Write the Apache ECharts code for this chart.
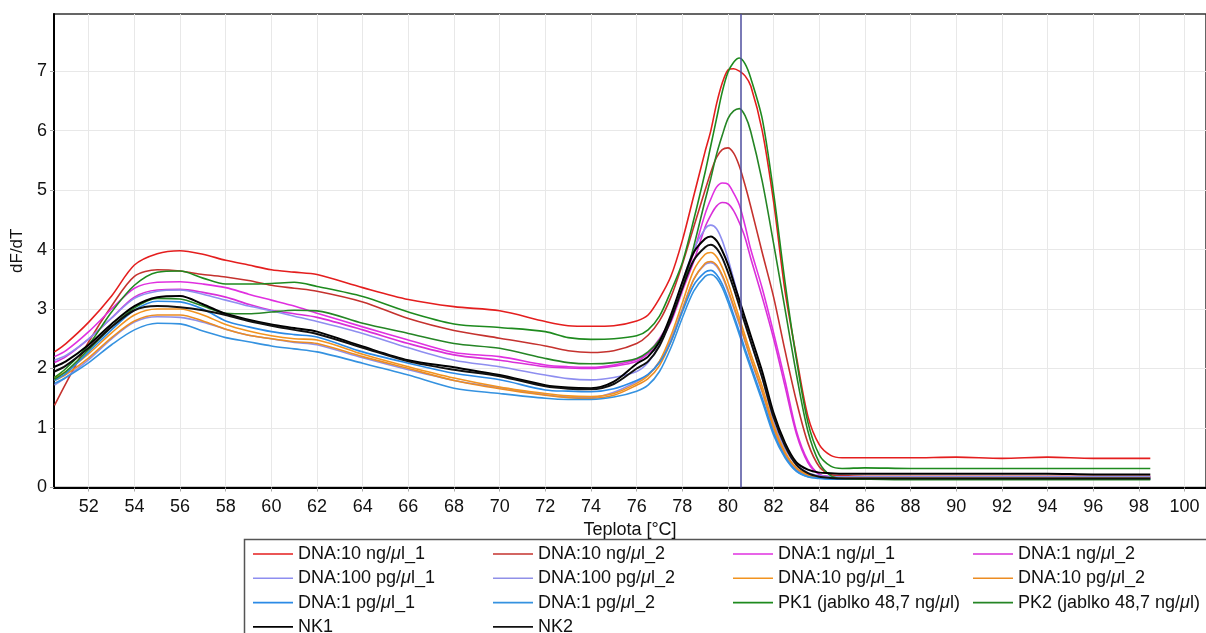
<!DOCTYPE html>
<html><head><meta charset="utf-8">
<script src="https://cdn.jsdelivr.net/npm/echarts@6/dist/echarts.min.js"></script>
<style>html,body{margin:0;padding:0;background:#fff}#c{width:1206px;height:633px}</style>
</head><body><div id="c"></div>
<script>
const temps = [50.5, 51, 52, 53, 54, 55, 56, 57, 58, 59, 60, 61, 62, 64, 66, 68, 70, 72, 73, 74, 75,
  76, 76.5, 77, 77.5, 78, 78.5, 79, 79.25, 79.5, 79.75, 80, 80.25, 80.5, 80.75, 81, 81.5, 82, 82.5, 83, 83.5,
  84, 84.5, 85, 86, 88, 90, 92, 94, 96, 98.5];

const dna10ng_1 = [2.28, 2.42, 2.78, 3.22, 3.74, 3.93, 3.98, 3.92, 3.82, 3.74, 3.66, 3.62, 3.58, 3.36, 3.16, 3.04, 2.97, 2.79, 2.72, 2.71, 2.72,
  2.8, 2.9, 3.18, 3.55, 4.15, 4.9, 5.65, 6.0, 6.45, 6.8, 7.02, 7.04, 7.0, 6.92, 6.75, 6.0, 4.8, 3.3, 2.2, 1.2, 0.72, 0.54, 0.5, 0.5, 0.5, 0.51, 0.49, 0.51, 0.49, 0.49];
const dna10ng_2 = [1.38, 1.75, 2.45, 3.05, 3.55, 3.66, 3.64, 3.58, 3.54, 3.48, 3.40, 3.35, 3.30, 3.12, 2.84, 2.64, 2.51, 2.38, 2.30, 2.27, 2.30,
  2.42, 2.56, 2.8, 3.2, 3.75, 4.38, 5.0, 5.3, 5.55, 5.68, 5.71, 5.62, 5.4, 5.08, 4.72, 3.95, 3.2, 2.3, 1.45, 0.75, 0.35, 0.22, 0.2, 0.19, 0.19, 0.19, 0.19, 0.19, 0.19, 0.19];
const dna1ng_1 = [2.2, 2.3, 2.62, 3.0, 3.35, 3.45, 3.46, 3.42, 3.36, 3.25, 3.15, 3.05, 2.93, 2.7, 2.48, 2.27, 2.2, 2.06, 2.03, 2.02, 2.06,
  2.15, 2.27, 2.5, 2.85, 3.35, 3.95, 4.6, 4.85, 5.05, 5.12, 5.1, 4.95, 4.75, 4.4, 4.0, 3.35, 2.6, 1.8, 0.95, 0.45, 0.22, 0.18, 0.17, 0.17, 0.17, 0.17, 0.17, 0.17, 0.17, 0.17];
const dna1ng_2 = [2.1, 2.2, 2.5, 2.85, 3.2, 3.32, 3.33, 3.28, 3.2, 3.08, 2.98, 2.92, 2.86, 2.65, 2.42, 2.23, 2.14, 2.03, 2.01, 2.0, 2.04,
  2.12, 2.25, 2.45, 2.78, 3.3, 3.8, 4.38, 4.58, 4.73, 4.79, 4.77, 4.65, 4.45, 4.2, 3.85, 3.2, 2.5, 1.7, 0.9, 0.42, 0.22, 0.18, 0.17, 0.17, 0.17, 0.17, 0.17, 0.17, 0.17, 0.17];
const dna100pg_1 = [2.14, 2.22, 2.5, 2.85, 3.18, 3.3, 3.32, 3.25, 3.15, 3.05, 2.97, 2.88, 2.79, 2.59, 2.35, 2.14, 2.03, 1.89, 1.83, 1.81, 1.85,
  1.95, 2.1, 2.4, 2.85, 3.45, 4.0, 4.35, 4.41, 4.35, 4.15, 3.85, 3.5, 3.15, 2.8, 2.45, 1.85, 1.1, 0.65, 0.38, 0.25, 0.2, 0.18, 0.18, 0.18, 0.18, 0.18, 0.18, 0.18, 0.18, 0.18];
const dna100pg_2 = [1.72, 1.85, 2.15, 2.5, 2.78, 2.87, 2.86, 2.78, 2.66, 2.56, 2.5, 2.44, 2.4, 2.18, 1.98, 1.8, 1.68, 1.56, 1.52, 1.51, 1.6,
  1.78, 1.9, 2.12, 2.5, 3.0, 3.5, 3.75, 3.78, 3.72, 3.55, 3.3, 3.02, 2.74, 2.45, 2.15, 1.6, 0.98, 0.55, 0.3, 0.2, 0.17, 0.16, 0.16, 0.17, 0.17, 0.17, 0.17, 0.17, 0.17, 0.17];
const dna10pg_1 = [1.85, 1.95, 2.25, 2.6, 2.9, 3.0, 3.0, 2.9, 2.74, 2.63, 2.55, 2.5, 2.48, 2.24, 2.03, 1.84, 1.69, 1.58, 1.54, 1.53, 1.58,
  1.75, 1.88, 2.12, 2.55, 3.1, 3.65, 3.92, 3.95, 3.88, 3.7, 3.45, 3.15, 2.85, 2.55, 2.25, 1.7, 1.05, 0.6, 0.33, 0.22, 0.18, 0.16, 0.16, 0.16, 0.16, 0.16, 0.16, 0.16, 0.16, 0.16];
const dna10pg_2 = [1.8, 1.9, 2.18, 2.52, 2.8, 2.9, 2.9, 2.8, 2.66, 2.56, 2.5, 2.45, 2.42, 2.2, 2.0, 1.8, 1.66, 1.55, 1.51, 1.5, 1.55,
  1.72, 1.83, 2.05, 2.45, 2.98, 3.5, 3.77, 3.8, 3.74, 3.57, 3.33, 3.05, 2.77, 2.47, 2.17, 1.62, 1.0, 0.57, 0.32, 0.21, 0.17, 0.16, 0.15, 0.15, 0.15, 0.15, 0.15, 0.15, 0.15, 0.15];
const dna1pg_1 = [1.8, 1.92, 2.28, 2.65, 2.98, 3.13, 3.12, 3.0, 2.8, 2.7, 2.62, 2.57, 2.53, 2.28, 2.09, 1.92, 1.81, 1.64, 1.62, 1.61, 1.66,
  1.8, 1.9, 2.1, 2.45, 2.95, 3.4, 3.62, 3.65, 3.58, 3.42, 3.18, 2.9, 2.62, 2.33, 2.05, 1.5, 0.92, 0.52, 0.28, 0.18, 0.15, 0.14, 0.14, 0.14, 0.14, 0.14, 0.14, 0.14, 0.14, 0.14];
const dna1pg_2 = [1.75, 1.85, 2.1, 2.4, 2.65, 2.76, 2.75, 2.63, 2.52, 2.45, 2.38, 2.33, 2.28, 2.09, 1.89, 1.67, 1.58, 1.5, 1.48, 1.48, 1.52,
  1.62, 1.72, 1.95, 2.35, 2.85, 3.3, 3.55, 3.58, 3.52, 3.36, 3.12, 2.85, 2.57, 2.28, 2.0, 1.45, 0.88, 0.5, 0.27, 0.18, 0.16, 0.15, 0.15, 0.15, 0.15, 0.15, 0.15, 0.15, 0.15, 0.15];
const pk1 = [1.85, 2.0, 2.4, 2.95, 3.4, 3.62, 3.64, 3.52, 3.42, 3.42, 3.43, 3.45, 3.38, 3.21, 2.95, 2.75, 2.69, 2.62, 2.52, 2.49, 2.5,
  2.55, 2.65, 2.88, 3.3, 3.78, 4.5, 5.3, 5.75, 6.2, 6.65, 6.98, 7.15, 7.22, 7.12, 6.88, 6.2, 4.95, 3.45, 2.15, 1.1, 0.55, 0.36, 0.32, 0.33, 0.32, 0.32, 0.32, 0.32, 0.32, 0.32];
const pk2 = [1.82, 1.95, 2.32, 2.7, 3.02, 3.18, 3.17, 3.05, 2.93, 2.92, 2.95, 2.98, 2.97, 2.76, 2.59, 2.42, 2.34, 2.17, 2.1, 2.08, 2.1,
  2.17, 2.28, 2.48, 2.85, 3.35, 4.05, 4.83, 5.2, 5.6, 5.92, 6.2, 6.33, 6.37, 6.25, 5.98, 5.15, 4.1, 3.0, 1.9, 0.95, 0.42, 0.2, 0.15, 0.14, 0.13, 0.13, 0.13, 0.13, 0.13, 0.13];
const nk1 = [2.03, 2.12, 2.4, 2.75, 3.05, 3.2, 3.22, 3.08, 2.92, 2.82, 2.74, 2.68, 2.62, 2.37, 2.14, 2.02, 1.89, 1.72, 1.68, 1.67, 1.78,
  2.08, 2.2, 2.45, 2.9, 3.45, 3.95, 4.18, 4.22, 4.15, 3.98, 3.75, 3.45, 3.15, 2.85, 2.55, 1.95, 1.25, 0.75, 0.42, 0.3, 0.25, 0.24, 0.23, 0.23, 0.23, 0.23, 0.23, 0.23, 0.22, 0.22];
const nk2 = [1.95, 2.05, 2.35, 2.7, 2.98, 3.05, 3.03, 2.98, 2.9, 2.8, 2.72, 2.65, 2.58, 2.35, 2.12, 1.98, 1.87, 1.7, 1.66, 1.65, 1.74,
  2.0, 2.12, 2.38, 2.82, 3.35, 3.82, 4.04, 4.08, 4.02, 3.86, 3.62, 3.35, 3.05, 2.75, 2.45, 1.85, 1.18, 0.7, 0.38, 0.24, 0.18, 0.16, 0.15, 0.15, 0.15, 0.15, 0.15, 0.15, 0.15, 0.15];

const xTicks = [52, 54, 56, 58, 60, 62, 64, 66, 68, 70, 72, 74, 76, 78, 80, 82, 84, 86, 88, 90, 92, 94, 96, 98, 100];
const yTicks = [0, 1, 2, 3, 4, 5, 6, 7];

const seriesNames = ['DNA:10 ng/μl_1', 'DNA:10 ng/μl_2', 'DNA:1 ng/μl_1', 'DNA:1 ng/μl_2',
  'DNA:100 pg/μl_1', 'DNA:100 pg/μl_2', 'DNA:10 pg/μl_1', 'DNA:10 pg/μl_2',
  'DNA:1 pg/μl_1', 'DNA:1 pg/μl_2', 'PK1 (jablko 48,7 ng/μl)', 'PK2 (jablko 48,7 ng/μl)', 'NK1', 'NK2'];
const seriesValues = [dna10ng_1, dna10ng_2, dna1ng_1, dna1ng_2, dna100pg_1, dna100pg_2, dna10pg_1, dna10pg_2,
  dna1pg_1, dna1pg_2, pk1, pk2, nk1, nk2];
const markerTemp = 80.55;

const seriesColors = ['#e41e1e', '#c5322e', '#e030e0', '#d92fd9', '#8e8ef0', '#9090e8', '#f2931f', '#ec8c22',
  '#2b8ae6', '#3592e0', '#1e8a1e', '#258525', '#000000', '#111111'];
const legendCols = [
  ['DNA:10 ng/μl_1', 'DNA:100 pg/μl_1', 'DNA:1 pg/μl_1', 'NK1'],
  ['DNA:10 ng/μl_2', 'DNA:100 pg/μl_2', 'DNA:1 pg/μl_2', 'NK2'],
  ['DNA:1 ng/μl_1', 'DNA:10 pg/μl_1', 'PK1 (jablko 48,7 ng/μl)'],
  ['DNA:1 ng/μl_2', 'DNA:10 pg/μl_2', 'PK2 (jablko 48,7 ng/μl)']
];
const legendLeft = [253, 493, 733, 973];

const FONT = '"Liberation Sans", Arial, Helvetica, sans-serif';
const chart = echarts.init(document.getElementById('c'));

const series = seriesNames.map((name, i) => {
  const s = {
    name, type: 'line', showSymbol: false, symbol: 'none', smooth: 0.3,
    data: temps.map((t, k) => [t, seriesValues[i][k]]),
    lineStyle: { color: seriesColors[i], width: (name.startsWith('NK')) ? 2 : 1.6 },
    itemStyle: { color: seriesColors[i] },
    emphasis: { disabled: true }, z: 2
  };
  if (i === seriesNames.length - 1) {
    s.markLine = {
      silent: true, symbol: ['none', 'none'], label: { show: false },
      lineStyle: { color: '#4e4e9e', width: 1.5, type: 'solid' },
      data: [{ xAxis: markerTemp }]
    };
  }
  return s;
});

const legends = legendCols.map((col, i) => ({
  show: true, orient: 'vertical', left: legendLeft[i], top: 544, height: 200, padding: 0,
  data: col, icon: 'rect', itemWidth: 40, itemHeight: 1.6, itemGap: 4.3, selectedMode: false,
  formatter: n => n.replace('μ', '{i|μ}'),
  textStyle: { fontSize: 18, lineHeight: 20, color: '#111', fontFamily: FONT,
    rich: { i: { fontStyle: 'italic', fontSize: 18, lineHeight: 20, color: '#111', fontFamily: FONT } } }
}));

chart.setOption({
  animation: false,
  backgroundColor: '#fff',
  grid: { left: 54, top: 14, right: -2, bottom: 145.5, show: true, borderColor: '#333', borderWidth: 1.5, backgroundColor: 'transparent' },
  legend: legends,
  xAxis: {
    type: 'value', min: 50.478, max: 100.94,
    name: 'Teplota [°C]', nameLocation: 'middle', nameGap: 27,
    nameTextStyle: { fontSize: 18, color: '#111', fontFamily: FONT },
    axisLine: { show: true, onZero: false, lineStyle: { color: '#000', width: 2 } },
    axisTick: { show: true, length: 4, customValues: xTicks, lineStyle: { color: '#aaa' } },
    axisLabel: { customValues: xTicks, fontSize: 18, color: '#111', fontFamily: FONT, margin: 11 },
    splitLine: { show: true, lineStyle: { color: '#e8e8e8', width: 1 } }
  },
  yAxis: {
    type: 'value', min: 0, max: 7.96,
    name: 'dF/dT', nameLocation: 'middle', nameGap: 19, nameRotate: 90,
    nameTextStyle: { fontSize: 17, color: '#111', fontFamily: FONT },
    axisLine: { show: true, lineStyle: { color: '#000', width: 2 } },
    axisTick: { show: true, length: 4, customValues: yTicks, lineStyle: { color: '#aaa' } },
    axisLabel: { customValues: yTicks, fontSize: 18, color: '#111', fontFamily: FONT, margin: 7 },
    splitLine: { show: true, lineStyle: { color: '#e8e8e8', width: 1 } }
  },
  graphic: [{
    type: 'rect', silent: true, z: 0,
    shape: { x: 244.5, y: 539.5, width: 1000, height: 120 },
    style: { fill: 'none', stroke: '#555', lineWidth: 1.5 }
  }],
  series
});
</script></body></html>
